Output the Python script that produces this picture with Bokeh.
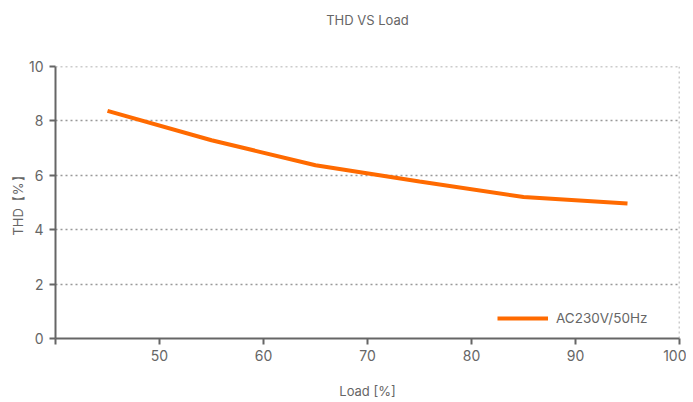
from bokeh.plotting import figure
from bokeh.embed import file_html
from bokeh.resources import INLINE
from bokeh.models import Range1d, FixedTicker, Legend, LegendItem, Span, Title

load = [45, 55, 65, 75, 85, 95]
thd = [8.37, 7.29, 6.37, 5.77, 5.20, 4.96]
series_name = "AC230V/50Hz"
title_text = "THD VS Load"
x_ticks = [40, 50, 60, 70, 80, 90, 100]
y_ticks = [0, 2, 4, 6, 8, 10]

FONT = "Inter"
GREY = "#666666"
GRID = "#999999"

p = figure(frame_width=624, frame_height=272, output_backend="svg", toolbar_location=None,
           x_range=Range1d(40, 100), y_range=Range1d(0, 10),
           min_border_left=55, min_border_right=7, min_border_top=0, min_border_bottom=4)

# real title (outermost panel)
p.title.text = title_text
p.title.align = "center"
p.title.text_font = FONT
p.title.text_font_size = "13px"
p.title.text_font_style = "normal"
p.title.text_color = GREY
p.title.standoff = 18
# spacer panel between the title and the plot frame
p.add_layout(Title(text=" ", text_font=FONT, text_font_size="13px", standoff=12), "above")

p.outline_line_color = None
p.background_fill_color = "white"

r = p.line(load, thd, line_color="#FF6A00", line_width=4)

xa = p.xaxis[0]
xa.ticker = FixedTicker(ticks=x_ticks)
xa.major_label_overrides = {40: ""}
xa.axis_label = "Load [%]"
ya = p.yaxis[0]
ya.ticker = FixedTicker(ticks=y_ticks)
ya.axis_label = "THD【%】"
for ax in (xa, ya):
    ax.axis_line_color = GREY
    ax.axis_line_width = 2
    ax.major_tick_line_color = GREY
    ax.major_tick_line_width = 2
    ax.major_tick_out = 6
    ax.major_tick_in = 0
    ax.minor_tick_line_color = None
    ax.major_label_text_font = FONT
    ax.major_label_text_font_size = "14px"
    ax.major_label_text_color = GREY
    ax.axis_label_text_font = FONT
    ax.axis_label_text_font_size = "13px"
    ax.axis_label_text_font_style = "normal"
    ax.axis_label_text_color = GREY
xa.axis_label_standoff = 19
ya.axis_label_standoff = 0
ya.major_label_standoff = 6
xa.major_label_standoff = 5

p.xgrid.grid_line_color = None
p.ygrid.ticker = FixedTicker(ticks=[2, 4, 6, 8])
p.ygrid.grid_line_color = GRID
p.ygrid.grid_line_dash = "2 3"
p.ygrid.grid_line_width = 1.5

p.add_layout(Span(location=100, dimension="height", line_color=GRID,
                  line_dash="2 3", line_width=1.5))
p.add_layout(Span(location=10, dimension="width", line_color=GRID,
                  line_dash="2 3", line_width=1.5))

legend = Legend(items=[LegendItem(label=series_name, renderers=[r])],
                location=(442, 10), border_line_color=None,
                background_fill_alpha=0, label_text_font=FONT,
                label_text_font_size="13.5px", label_text_color=GREY,
                glyph_width=51, label_standoff=8)
p.add_layout(legend)

open("out.html", "w").write(file_html(p, INLINE))
